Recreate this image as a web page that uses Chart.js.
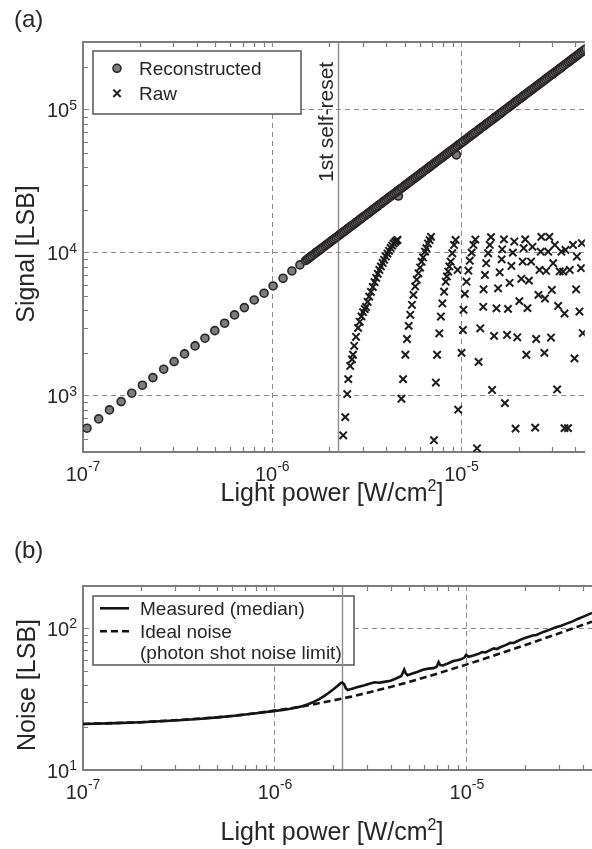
<!DOCTYPE html>
<html>
<head>
<meta charset="utf-8">
<script src="https://cdn.jsdelivr.net/npm/chart.js@4.4.1/dist/chart.umd.min.js"></script>
<style>
  html, body { margin: 0; padding: 0; background: #fff; }
  body { width: 592px; height: 849px; position: relative; overflow: hidden; }
  .panel { position: absolute; left: 0; width: 592px; }
  #boxA { top: 0; height: 515px; }
  #boxB { top: 530px; height: 319px; }
</style>
</head>
<body>
<div class="panel" id="boxA"><canvas id="signal-chart"></canvas></div>
<div class="panel" id="boxB"><canvas id="noise-chart"></canvas></div>
<script>
// axis ticks (light power in W/cm2)
const xTicks = [1e-7, 1e-6, 1e-5];
const signalTicks = [1e3, 1e4, 1e5];
const noiseTicks = [1e1, 1e2];
const minorSteps = [2, 3, 4, 5, 6, 7, 8, 9];
const resetPower = 2.23e-6;

// (a) reconstructed signal, sparse low-light steps
const reconPower = [
  1.05e-7, 1.21e-7, 1.38e-7, 1.59e-7, 1.81e-7, 2.06e-7, 2.34e-7, 2.67e-7, 3.03e-7, 3.44e-7,
  3.91e-7, 4.41e-7, 4.97e-7, 5.60e-7, 6.32e-7, 7.12e-7, 8.03e-7, 9.05e-7, 1.01e-6, 1.14e-6,
  1.27e-6, 1.40e-6,
  4.64e-6, 9.40e-6
];
const reconSignal = [
  594, 690, 798, 912, 1044, 1188, 1343, 1537, 1738, 1966,
  2237, 2532, 2861, 3224, 3685, 4145, 4691, 5228, 5877, 6653,
  7484, 8250,
  25000, 48500
];
// (a) reconstructed signal, dense sweep
const sweepPower = [
  1.50e-6, 1.53e-6, 1.56e-6, 1.59e-6, 1.62e-6, 1.655e-6, 1.69e-6, 1.72e-6, 1.75e-6, 1.785e-6,
  1.82e-6, 1.86e-6, 1.90e-6, 1.935e-6, 1.97e-6, 2.01e-6, 2.05e-6, 2.09e-6, 2.13e-6, 2.175e-6,
  2.22e-6, 2.265e-6, 2.31e-6, 2.355e-6, 2.40e-6, 2.45e-6, 2.50e-6, 2.55e-6, 2.60e-6, 2.65e-6,
  2.70e-6, 2.755e-6, 2.81e-6, 2.865e-6, 2.92e-6, 2.98e-6, 3.04e-6, 3.10e-6, 3.16e-6, 3.225e-6,
  3.29e-6, 3.355e-6, 3.42e-6, 3.485e-6, 3.55e-6, 3.625e-6, 3.70e-6, 3.77e-6, 3.84e-6, 3.92e-6,
  4.00e-6, 4.08e-6, 4.16e-6, 4.24e-6, 4.32e-6, 4.41e-6, 4.50e-6, 4.59e-6, 4.68e-6, 4.77e-6,
  4.86e-6, 4.96e-6, 5.06e-6, 5.16e-6, 5.26e-6, 5.365e-6, 5.47e-6, 5.58e-6, 5.69e-6, 5.805e-6,
  5.92e-6, 6.035e-6, 6.15e-6, 6.275e-6, 6.40e-6, 6.53e-6, 6.66e-6, 6.79e-6, 6.92e-6, 7.06e-6,
  7.20e-6, 7.345e-6, 7.49e-6, 7.64e-6, 7.79e-6, 7.945e-6, 8.10e-6, 8.26e-6, 8.42e-6, 8.59e-6,
  8.76e-6, 8.935e-6, 9.11e-6, 9.29e-6, 9.47e-6, 9.66e-6, 9.85e-6, 1.002e-5, 1.02e-5, 1.045e-5,
  1.07e-5, 1.09e-5, 1.11e-5, 1.13e-5, 1.15e-5, 1.175e-5, 1.20e-5, 1.225e-5, 1.25e-5, 1.275e-5,
  1.30e-5, 1.325e-5, 1.35e-5, 1.375e-5, 1.40e-5, 1.43e-5, 1.46e-5, 1.49e-5, 1.52e-5, 1.55e-5,
  1.58e-5, 1.61e-5, 1.64e-5, 1.675e-5, 1.71e-5, 1.745e-5, 1.78e-5, 1.815e-5, 1.85e-5, 1.885e-5,
  1.92e-5, 1.96e-5, 2.00e-5, 2.04e-5, 2.08e-5, 2.12e-5, 2.16e-5, 2.205e-5, 2.25e-5, 2.295e-5,
  2.34e-5, 2.385e-5, 2.43e-5, 2.48e-5, 2.53e-5, 2.58e-5, 2.63e-5, 2.68e-5, 2.73e-5, 2.785e-5,
  2.84e-5, 2.90e-5, 2.96e-5, 3.015e-5, 3.07e-5, 3.135e-5, 3.20e-5, 3.26e-5, 3.32e-5, 3.39e-5,
  3.46e-5, 3.53e-5, 3.60e-5, 3.67e-5, 3.74e-5, 3.815e-5, 3.89e-5, 3.965e-5, 4.04e-5, 4.12e-5,
  4.20e-5, 4.285e-5, 4.37e-5, 4.46e-5, 4.55e-5
];
const sweepSignal = [
  8850, 9030, 9200, 9380, 9560, 9760, 9970, 10150, 10330, 10530,
  10740, 10970, 11210, 11420, 11620, 11860, 12100, 12330, 12570, 12830,
  13100, 13360, 13630, 13890, 14160, 14460, 14750, 15040, 15340, 15640,
  15930, 16250, 16580, 16900, 17230, 17580, 17940, 18290, 18640, 19030,
  19410, 19790, 20180, 20560, 20950, 21390, 21830, 22240, 22660, 23130,
  23600, 24070, 24540, 25020, 25490, 26020, 26550, 27080, 27610, 28140,
  28670, 29260, 29850, 30440, 31030, 31650, 32270, 32920, 33570, 34250,
  34930, 35610, 36290, 37020, 37760, 38530, 39290, 40060, 40830, 41650,
  42480, 43340, 44190, 45080, 45960, 46880, 47790, 48730, 49680, 50680,
  51680, 52720, 53750, 54810, 55870, 56990, 58120, 59120, 60180, 61660,
  63130, 64310, 65490, 66670, 67850, 69330, 70800, 72280, 73750, 75230,
  76700, 78180, 79650, 81130, 82600, 84370, 86140, 87910, 89680, 91450,
  93220, 94990, 96760, 98830, 100900, 102950, 105000, 107100, 109200, 111250,
  113300, 115650, 118000, 120350, 122700, 125050, 127400, 130100, 132800, 135450,
  138100, 140750, 143400, 146350, 149300, 152250, 155200, 158150, 161100, 164350,
  167600, 171100, 174600, 177850, 181100, 184950, 188800, 192350, 195900, 200000,
  204100, 208250, 212400, 216550, 220700, 225100, 229500, 233950, 238400, 243100,
  247800, 252800, 257800, 263150, 268500
];

// (a) raw pixel output, wrapping after each self-reset
const rawPower = [
  2.37e-6, 2.43e-6, 2.49e-6, 2.52e-6, 2.58e-6, 2.64e-6, 2.67e-6, 2.71e-6, 2.77e-6, 2.84e-6,
  2.90e-6, 2.96e-6, 3.02e-6, 3.08e-6, 3.13e-6, 3.19e-6, 3.25e-6, 3.32e-6, 3.40e-6, 3.47e-6,
  3.54e-6, 3.61e-6, 3.68e-6, 3.75e-6, 3.83e-6, 3.90e-6, 3.98e-6, 4.06e-6, 4.14e-6, 4.22e-6,
  4.30e-6, 4.38e-6, 4.46e-6, 4.53e-6, 4.59e-6,
  4.81e-6, 4.91e-6, 5.05e-6, 5.15e-6, 5.26e-6, 5.36e-6, 5.47e-6, 5.57e-6, 5.69e-6, 5.80e-6,
  5.92e-6, 6.04e-6, 6.15e-6, 6.26e-6, 6.42e-6, 6.52e-6, 6.65e-6, 6.78e-6, 6.90e-6,
  7.15e-6, 7.32e-6, 7.43e-6, 7.63e-6, 7.78e-6, 7.92e-6, 8.09e-6, 8.25e-6,
  8.37e-6, 8.49e-6, 8.62e-6, 8.76e-6, 8.94e-6, 9.13e-6, 9.31e-6, 9.53e-6,
  9.60e-6, 1.000e-5, 1.017e-5, 1.024e-5, 1.041e-5, 1.062e-5, 1.087e-5, 1.105e-5, 1.130e-5, 1.156e-5, 1.183e-5,
  1.207e-5, 1.231e-5, 1.256e-5, 1.302e-5, 1.308e-5, 1.330e-5, 1.350e-5, 1.382e-5, 1.410e-5, 1.430e-5,
  1.450e-5, 1.486e-5, 1.530e-5, 1.560e-5, 1.590e-5, 1.630e-5, 1.640e-5, 1.675e-5,
  1.695e-5, 1.740e-5, 1.760e-5, 1.795e-5, 1.835e-5, 1.866e-5, 1.900e-5,
  1.930e-5, 1.970e-5, 2.020e-5, 2.070e-5, 2.104e-5, 2.130e-5, 2.170e-5,
  2.200e-5, 2.230e-5, 2.270e-5, 2.330e-5, 2.370e-5,
  2.450e-5, 2.480e-5, 2.550e-5, 2.580e-5, 2.620e-5, 2.640e-5,
  2.740e-5, 2.760e-5, 2.800e-5, 2.870e-5, 2.910e-5,
  2.970e-5, 3.000e-5, 3.050e-5, 3.110e-5, 3.200e-5, 3.240e-5, 3.300e-5, 3.370e-5,
  3.440e-5, 3.500e-5, 3.500e-5, 3.540e-5, 3.650e-5, 3.730e-5, 3.880e-5,
  3.950e-5, 4.030e-5, 4.070e-5, 4.200e-5, 4.280e-5, 4.320e-5, 4.370e-5
];
const rawSignal = [
  530, 710, 1030, 1310, 1620, 1800, 1940, 2240, 2590, 2990,
  3300, 3600, 3850, 4050, 4190, 4550, 4950, 5350, 5780, 6250,
  6700, 7150, 7600, 8050, 8510, 8950, 9450, 9900, 10350, 10840,
  11250, 11650, 11950, 12200, 12330,
  955, 1310, 1940, 2500, 3090, 3690, 4340, 5090, 5830, 6500,
  7200, 7900, 8690, 9300, 10210, 10800, 11630, 12300, 12950,
  490, 1240, 1940, 2740, 3590, 4430, 5360, 6290,
  6850, 7410, 8050, 8690, 9950, 11370, 12330, 7600,
  800, 2000, 2890, 4000, 5170, 6290, 7510, 8830, 10050, 11370, 12400,
  430, 1730, 2970, 4200, 5570, 7020, 8480, 9950, 11370, 12900,
  1100, 2630, 4100, 5660, 7320, 9020, 10600, 12440,
  890, 2670, 4060, 6180, 8110, 10050, 12020,
  590, 2570, 4600, 6590, 8700, 10800, 12440,
  1940, 4110, 6400, 8700, 11040,
  600, 2500, 5090, 7600, 10200, 12950,
  2000, 4800, 7480, 10200, 12950,
  2560, 5510, 8480, 11370, 1110, 4260, 7420, 10200,
  7400, 595, 3770, 10490, 595, 7600, 11370,
  1830, 5570, 9430, 3890, 7820, 11700, 2750
];

// (b) noise
const noisePower = [
  1.0e-7, 1.5e-7, 2.0e-7, 3.0e-7, 4.0e-7, 5.0e-7, 6.0e-7, 7.0e-7, 8.0e-7, 9.0e-7,
  1.0e-6, 1.1e-6, 1.2e-6, 1.3e-6, 1.4e-6, 1.5e-6, 1.6e-6, 1.7e-6, 1.8e-6, 1.9e-6,
  2.0e-6, 2.1e-6, 2.2e-6, 2.24e-6, 2.29e-6, 2.34e-6, 2.40e-6, 2.5e-6, 2.7e-6, 2.9e-6,
  3.1e-6, 3.3e-6, 3.5e-6, 3.7e-6, 4.0e-6, 4.3e-6, 4.55e-6, 4.71e-6, 4.8e-6, 4.9e-6,
  5.2e-6, 5.5e-6, 5.9e-6, 6.3e-6, 6.7e-6, 6.95e-6, 7.12e-6, 7.25e-6, 7.5e-6, 8.0e-6,
  8.5e-6, 8.9e-6, 9.3e-6, 9.7e-6, 9.9e-6, 1.02e-5, 1.08e-5, 1.15e-5, 1.2e-5, 1.25e-5,
  1.32e-5, 1.38e-5, 1.43e-5, 1.5e-5, 1.6e-5, 1.68e-5, 1.75e-5, 1.85e-5, 1.97e-5, 2.1e-5,
  2.2e-5, 2.3e-5, 2.5e-5, 2.7e-5, 2.9e-5, 3.1e-5, 3.3e-5, 3.55e-5, 3.8e-5, 4.1e-5, 4.48e-5
];
const noiseMeasured = [
  21.1, 21.4, 21.7, 22.3, 22.9, 23.5, 24.0, 24.6, 25.1, 25.6,
  26.1, 26.5, 27.0, 27.6, 28.3, 29.2, 30.3, 31.6, 33.2, 34.9,
  36.8, 38.8, 40.9, 41.4, 40.3, 37.6, 36.6, 37.3, 38.4, 39.4,
  40.6, 41.5, 41.2, 41.8, 42.6, 44.3, 46.0, 51.0, 48.0, 46.6,
  47.8, 49.0, 50.8, 51.8, 52.2, 53.4, 57.6, 54.8, 54.5, 56.5,
  58.6, 59.4, 60.2, 62.0, 64.8, 62.8, 64.2, 66.0, 67.8, 67.3,
  70.0, 71.9, 71.2, 73.6, 76.1, 78.8, 78.6, 81.5, 84.6, 87.0,
  88.6, 89.5, 94.0, 97.5, 101.5, 103.8, 107.5, 111.5, 116.5, 121.5, 128.0
];
const idealPower = [
  1e-7, 2e-7, 3e-7, 5e-7, 7e-7, 1e-6, 1.2e-6, 1.5e-6, 2e-6, 2.5e-6, 3e-6, 4e-6,
  5e-6, 6e-6, 7e-6, 1e-5, 1.2e-5, 1.5e-5, 2e-5, 2.5e-5, 3e-5, 3.7e-5, 4.48e-5
];
const noiseIdeal = [
  21.1, 21.7, 22.4, 23.5, 24.6, 26.2, 27.2, 28.6, 30.9, 32.9, 34.9, 38.5,
  41.8, 44.9, 47.8, 55.5, 60.1, 66.4, 75.8, 84.1, 91.7, 101.3, 111.1
];

const FONT = '"Liberation Sans", Arial, Helvetica, sans-serif';
const TEXT = '#262626';
const AXIS = '#7c7c7c';
const GRID = '#8a8a8a';

function pts(xs, ys) {
  return xs.map((x, i) => ({ x: x, y: ys[i] }));
}

// text made of runs: [text, size, rise]
function runs(ctx, parts, x, y, align) {
  let w = 0;
  parts.forEach(p => { ctx.font = p[1] + 'px ' + FONT; w += ctx.measureText(p[0]).width; });
  let cx = align === 'center' ? x - w / 2 : (align === 'right' ? x - w : x);
  ctx.textAlign = 'left';
  parts.forEach(p => {
    ctx.font = p[1] + 'px ' + FONT;
    ctx.fillText(p[0], cx, y - (p[2] || 0));
    cx += ctx.measureText(p[0]).width;
  });
}

function expOf(v) {
  return String(Math.round(Math.log10(v)));
}

function minorValues(scale) {
  const out = [];
  const lo = Math.floor(Math.log10(scale.min));
  const hi = Math.floor(Math.log10(scale.max));
  for (let d = lo; d <= hi; d++) {
    minorSteps.forEach(m => {
      const v = m * Math.pow(10, d);
      if (v > scale.min && v < scale.max) out.push(v);
    });
  }
  return out;
}

function drawMarker(ctx, ds, x, y) {
  ctx.save();
  ctx.lineWidth = ds.borderWidth;
  ctx.strokeStyle = ds.borderColor;
  if (ds.pointStyle === 'crossRot') {
    const r = ds.pointRadius * 0.7;
    ctx.beginPath();
    ctx.moveTo(x - r, y - r); ctx.lineTo(x + r, y + r);
    ctx.moveTo(x - r, y + r); ctx.lineTo(x + r, y - r);
    ctx.stroke();
  } else {
    ctx.fillStyle = ds.backgroundColor;
    ctx.beginPath();
    ctx.arc(x, y, ds.pointRadius, 0, Math.PI * 2);
    ctx.fill(); ctx.stroke();
  }
  ctx.restore();
}

function drawLegend(chart, L) {
  const ctx = chart.ctx;
  ctx.save();
  ctx.fillStyle = '#fff';
  ctx.fillRect(L.x, L.y, L.w, L.h);
  ctx.strokeStyle = '#555';
  ctx.lineWidth = 1.5;
  ctx.strokeRect(L.x, L.y, L.w, L.h);
  L.rows.forEach(r => {
    if (r.ds != null) {
      const ds = chart.data.datasets[r.ds];
      const my = r.y - 6.7;
      if (ds.showLine) {
        ctx.save();
        ctx.strokeStyle = ds.borderColor;
        ctx.lineWidth = ds.borderWidth;
        ctx.setLineDash(ds.borderDash || []);
        ctx.beginPath();
        ctx.moveTo(L.x + 7, my); ctx.lineTo(L.x + 36, my);
        ctx.stroke();
        ctx.restore();
      } else {
        drawMarker(ctx, ds, L.x + 24, my);
      }
    }
    ctx.fillStyle = TEXT;
    ctx.font = '19px ' + FONT;
    ctx.textAlign = 'left';
    ctx.fillText(r.text, L.tx, r.y);
  });
  ctx.restore();
}

const decor = {
  id: 'decor',
  beforeDatasetsDraw(chart, args, o) {
    const ctx = chart.ctx, a = chart.chartArea;
    if (o.legend) drawLegend(chart, o.legend);
    const px = Math.round(chart.scales.x.getPixelForValue(resetPower)) + 0.5;
    ctx.save();
    ctx.strokeStyle = '#8c8c8c';
    ctx.lineWidth = 1.4;
    ctx.beginPath();
    ctx.moveTo(px, a.top); ctx.lineTo(px, a.bottom);
    ctx.stroke();
    ctx.restore();
  },
  afterDraw(chart, args, o) {
    const ctx = chart.ctx, a = chart.chartArea;
    const xs = chart.scales.x, ys = chart.scales.y;
    ctx.save();
    // top frame
    ctx.strokeStyle = AXIS;
    ctx.lineWidth = 2;
    ctx.beginPath();
    ctx.moveTo(a.left - 1, a.top); ctx.lineTo(a.right, a.top);
    ctx.stroke();
    // inward minor ticks
    ctx.lineWidth = 1.2;
    ctx.beginPath();
    minorValues(xs).forEach(v => {
      const p = Math.round(xs.getPixelForValue(v)) + 0.5;
      ctx.moveTo(p, a.bottom); ctx.lineTo(p, a.bottom - 5);
      ctx.moveTo(p, a.top); ctx.lineTo(p, a.top + 5);
    });
    minorValues(ys).forEach(v => {
      const p = Math.round(ys.getPixelForValue(v)) + 0.5;
      ctx.moveTo(a.left, p); ctx.lineTo(a.left + 5, p);
    });
    ctx.stroke();
    // tick labels
    ctx.fillStyle = TEXT;
    ctx.textBaseline = 'alphabetic';
    xTicks.forEach(v => {
      runs(ctx, [['10', 20], [expOf(v), 14, 10]], xs.getPixelForValue(v), a.bottom + 29, 'center');
    });
    o.yTicks.forEach(v => {
      runs(ctx, [['10', 20], [expOf(v), 14, 7.5]], a.left - 6, ys.getPixelForValue(v) + 7.5, 'right');
    });
    // axis titles
    runs(ctx, [['Light power [W/cm', 25], ['2', 16, 10], [']', 25]], o.xTitle.x, o.xTitle.y, 'center');
    ctx.save();
    ctx.translate(o.yTitle.x, o.yTitle.y);
    ctx.rotate(-Math.PI / 2);
    ctx.font = '25px ' + FONT;
    ctx.textAlign = 'center';
    ctx.textBaseline = 'middle';
    ctx.fillText(o.yTitle.text, 0, 0);
    ctx.restore();
    // panel letter
    ctx.font = '24px ' + FONT;
    ctx.textAlign = 'left';
    ctx.fillText(o.panel.text, o.panel.x, o.panel.y);
    // reset annotation
    if (o.note) {
      const px = xs.getPixelForValue(resetPower);
      ctx.save();
      ctx.translate(px - 5, o.note.y);
      ctx.rotate(-Math.PI / 2);
      ctx.font = '21px ' + FONT;
      ctx.textAlign = 'left';
      ctx.fillText(o.note.text, 0, 0);
      ctx.restore();
    }
    ctx.restore();
  }
};

function logAxis(min, max, ticks) {
  return {
    type: 'logarithmic',
    min: min,
    max: max,
    afterBuildTicks: s => { s.ticks = ticks.map(v => ({ value: v })); },
    ticks: { display: false },
    grid: { color: GRID, lineWidth: 1, drawTicks: false },
    border: { display: true, color: AXIS, width: 2, dash: [5, 4] }
  };
}

const reconStyle = {
  pointStyle: 'circle',
  pointRadius: 4,
  borderWidth: 1.6,
  backgroundColor: '#7c7c7c',
  borderColor: '#2a2424'
};

document.addEventListener('DOMContentLoaded', function() {
  const ctxA = document.getElementById('signal-chart').getContext('2d');
  const signalChart = new Chart(ctxA, {
    type: 'scatter',
    data: {
      datasets: [Object.assign({
        label: 'Reconstructed',
        data: pts(reconPower, reconSignal).concat(pts(sweepPower, sweepSignal))
      }, reconStyle), {
        label: 'Raw',
        data: pts(rawPower, rawSignal),
        pointStyle: 'crossRot',
        pointRadius: 5.2,
        borderWidth: 2,
        borderColor: '#1c1c1c',
        backgroundColor: '#1c1c1c'
      }]
    },
    options: {
      responsive: true,
      maintainAspectRatio: false,
      animation: false,
      events: [],
      layout: { padding: { left: 83, top: 42, right: 0, bottom: 63 } },
      scales: {
        x: logAxis(1e-7, 4.48e-5, xTicks),
        y: logAxis(405, 2.99e5, signalTicks)
      },
      plugins: {
        legend: { display: false },
        tooltip: { enabled: false },
        decor: {
          yTicks: signalTicks,
          xTitle: { x: 332, y: 501 },
          yTitle: { x: 27, y: 254, text: 'Signal [LSB]' },
          panel: { x: 14, y: 27, text: '(a)' },
          note: { y: 182, text: '1st self-reset' },
          legend: {
            x: 93, y: 51, w: 208, h: 63, tx: 139,
            rows: [{ ds: 0, text: 'Reconstructed', y: 75 }, { ds: 1, text: 'Raw', y: 100 }]
          }
        }
      }
    },
    plugins: [decor]
  });

  const ctxB = document.getElementById('noise-chart').getContext('2d');
  const noiseChart = new Chart(ctxB, {
    type: 'scatter',
    data: {
      datasets: [{
        label: 'Measured (median)',
        data: pts(noisePower, noiseMeasured),
        showLine: true,
        pointRadius: 0,
        borderWidth: 2.6,
        borderColor: '#141414'
      }, {
        label: 'Ideal noise',
        data: pts(idealPower, noiseIdeal),
        showLine: true,
        pointRadius: 0,
        borderWidth: 2.6,
        borderDash: [7, 4],
        borderColor: '#141414'
      }]
    },
    options: {
      responsive: true,
      maintainAspectRatio: false,
      animation: false,
      events: [],
      layout: { padding: { left: 83, top: 56, right: 0, bottom: 79 } },
      scales: {
        x: logAxis(1e-7, 4.48e-5, xTicks),
        y: logAxis(10, 198, noiseTicks)
      },
      plugins: {
        legend: { display: false },
        tooltip: { enabled: false },
        decor: {
          yTicks: noiseTicks,
          xTitle: { x: 332, y: 310 },
          yTitle: { x: 28, y: 155, text: 'Noise [LSB]' },
          panel: { x: 14, y: 28, text: '(b)' },
          legend: {
            x: 93, y: 66, w: 261, h: 69, tx: 140,
            rows: [
              { ds: 0, text: 'Measured (median)', y: 85 },
              { ds: 1, text: 'Ideal noise', y: 108 },
              { text: '(photon shot noise limit)', y: 129 }
            ]
          }
        }
      }
    },
    plugins: [decor]
  });
});
</script>
</body>
</html>
